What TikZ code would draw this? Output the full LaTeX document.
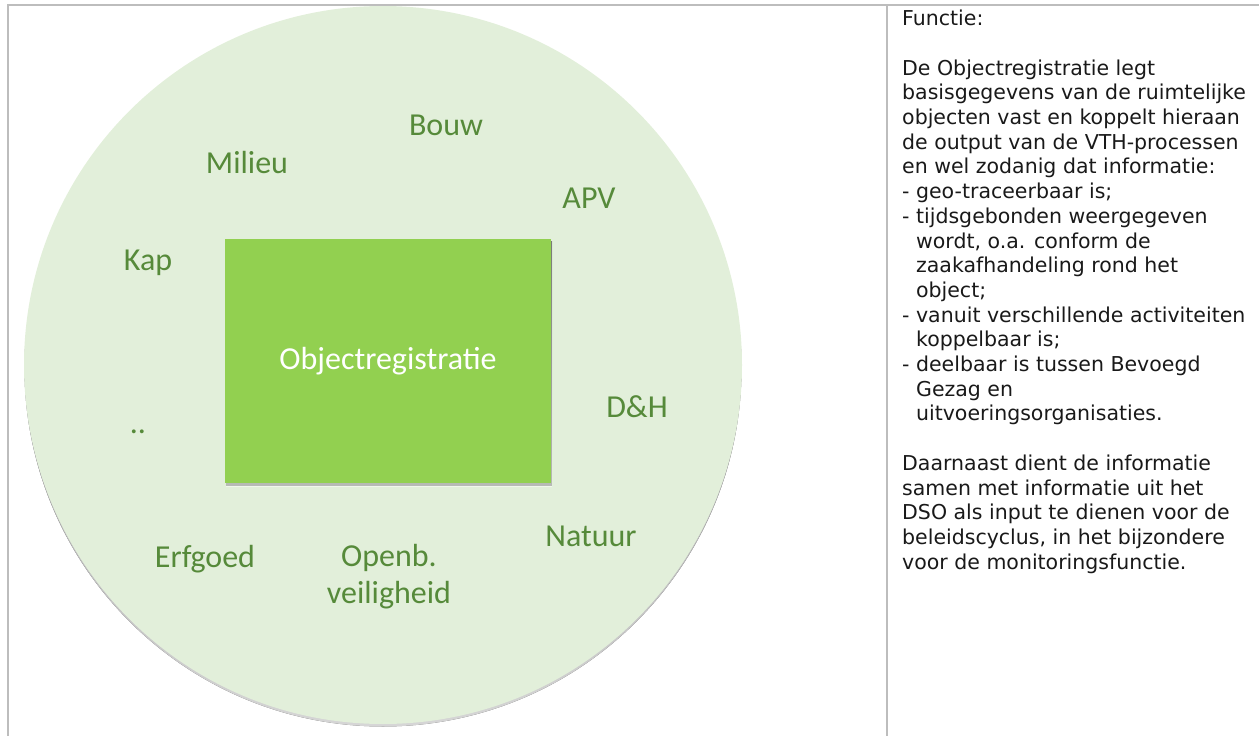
\documentclass[tikz,border=0pt]{standalone}
\usepackage{fontspec}
\setmainfont{Carlito}
\newfontfamily\dejavu{DejaVu Sans}
\definecolor{circfill}{HTML}{E2EFDA}
\definecolor{boxfill}{HTML}{92D050}
\definecolor{lbl}{HTML}{568A3A}
\definecolor{rule}{HTML}{BDBDBD}
\definecolor{shade}{HTML}{D3E1F0}
\begin{document}
\begin{tikzpicture}[x=1pt,y=-1pt,
  lab/.style={anchor=base,inner sep=0pt,text=lbl,font=\fontsize{32}{37}\selectfont},
  body/.style={anchor=north west,inner sep=0pt,align=left,text=black!90,font={\dejavu\fontsize{20.5}{24.7}\selectfont}},
  rulestyle/.style={draw=rule,line width=1.6pt}]
\useasboundingbox (0,0) rectangle (1259,736);
% table lines
\coordinate (tl) at (7,5);
\coordinate (tr) at (1259,5);
\coordinate (bl) at (8,736);
\coordinate (ml) at (887,5);
\coordinate (mb) at (887,736);
\draw[rulestyle] (tl) -- (tr);
\draw[rulestyle] (8,5) -- (bl);
\draw[rulestyle] (ml) -- (mb);
% circle
\fill[shade,opacity=0.8] (383,368) circle (358.5);
\node[circle,fill=circfill,minimum size=718pt,inner sep=0pt] (circ) at (383,365) {};
% box
\fill[shade,opacity=0.5] (226,241) rectangle (552,486);
\node[fill=boxfill,minimum width=326pt,minimum height=244pt,inner sep=0pt,text=white,
  font=\fontsize{32}{37}\selectfont] (obj) at (388,361) {Objectregistratie};
% labels
\node[lab] (bouw) at (446,135) {Bouw};
\node[lab] (apv) at (589,208) {APV};
\node[lab] (milieu) at (247,173) {Milieu};
\node[lab] (kap) at (148,270) {Kap};
\node[lab] (dots) at (138,433) {..};
\node[lab] (dh) at (637,417) {D\&H};
\node[lab] (natuur) at (591,546) {Natuur};
\node[lab] (erfgoed) at (205,567) {Erfgoed};
\node[lab] (openb) at (389,566) {Openb.};
\node[lab] (veil) at (389,603) {veiligheid};
% right text
\node[body] (func) at (902,10) {Functie:\\[24.7pt]
De Objectregistratie legt\\
basisgegevens van de ruimtelijke\\
objecten vast en koppelt hieraan\\
de output van de VTH-processen\\
en wel zodanig dat informatie:\\
- geo-traceerbaar is;\\
- tijdsgebonden weergegeven\\
\hphantom{- }wordt, o.a. conform de\\
\hphantom{- }zaakafhandeling rond het\\
\hphantom{- }object;\\
- vanuit verschillende activiteiten\\
\hphantom{- }koppelbaar is;\\
- deelbaar is tussen Bevoegd\\
\hphantom{- }Gezag en\\
\hphantom{- }uitvoeringsorganisaties.\\[24.7pt]
Daarnaast dient de informatie\\
samen met informatie uit het\\
DSO als input te dienen voor de\\
beleidscyclus, in het bijzondere\\
voor de monitoringsfunctie.};
\end{tikzpicture}
\end{document}
